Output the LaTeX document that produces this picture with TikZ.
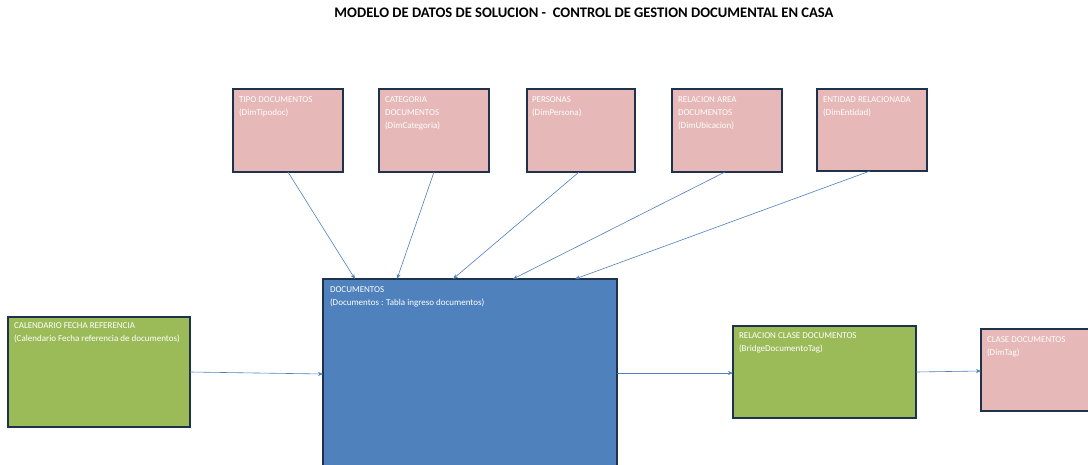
\documentclass[tikz,border=0pt]{standalone}
\usepackage{fontspec}
\setmainfont{Carlito}
\usetikzlibrary{arrows.meta}
\definecolor{pinkc}{RGB}{230,184,183}
\definecolor{greenc}{RGB}{155,187,89}
\definecolor{bluec}{RGB}{79,129,189}
\definecolor{borderc}{RGB}{30,50,75}
\definecolor{arrowc}{RGB}{79,129,189}
\tikzset{
  box/.style={draw=borderc, line width=1.4pt, rectangle, inner sep=0pt, outer sep=0pt},
  pinkbox/.style={box, fill=pinkc},
  greenbox/.style={box, fill=greenc},
  bluebox/.style={box, fill=bluec},
  boxtext/.style={anchor=north west, text=white, font=\fontsize{9}{12.7}\selectfont, align=left, inner sep=0pt},
  conn/.style={draw=arrowc, line width=0.6pt, -{Stealth[length=5pt,width=4pt]}},
}
\begin{document}
\begin{tikzpicture}[x=1pt,y=-1pt]
\clip (0,0) rectangle (1088,465);
\fill[white] (0,0) rectangle (1088,465);
\node[anchor=center, font=\fontsize{14.6}{16}\selectfont\bfseries] (title) at (584,13) {MODELO DE DATOS DE SOLUCION -\ \ CONTROL DE GESTION DOCUMENTAL EN CASA};

% top dimension boxes
\path[pinkbox] (233,89) rectangle (343,172) node[boxtext] (t1) at (239,97) {TIPO DOCUMENTOS\\(DimTipodoc)};
\coordinate (tipo) at (288,172);
\path[pinkbox] (379,89) rectangle (489,172) node[boxtext] (t2) at (385,97) {CATEGORIA\\DOCUMENTOS\\(DimCategoria)};
\coordinate (cat) at (434,172);
\path[pinkbox] (527,89) rectangle (635,172) node[boxtext] (t3) at (532,97) {PERSONAS\\(DimPersona)};
\coordinate (per) at (579,172);
\path[pinkbox] (672,89) rectangle (782,172) node[boxtext] (t4) at (678,97) {RELACION AREA\\DOCUMENTOS\\(DimUbicacion)};
\coordinate (rel) at (725,172);
\path[pinkbox] (817,89) rectangle (927,171) node[boxtext] (t5) at (823,97) {ENTIDAD RELACIONADA\\(DimEntidad)};
\coordinate (ent) at (870,171);

% documentos
\path[bluebox] (323,279) rectangle (617,480) node[boxtext] (t6) at (330,287) {DOCUMENTOS\\(Documentos : Tabla ingreso documentos)};
\coordinate (d1) at (355,279);
\coordinate (d2) at (397,279);
\coordinate (d3) at (453,279);
\coordinate (d4) at (513,279);
\coordinate (d5) at (575,279);
\coordinate (dl) at (323,374);
\coordinate (dr) at (617,373);

% calendario
\path[greenbox] (8,317) rectangle (190,427) node[boxtext] (t7) at (14,323) {CALENDARIO FECHA REFERENCIA\\(Calendario Fecha referencia de documentos)};
\coordinate (cal) at (190,372);

% relacion clase
\path[greenbox] (733,326) rectangle (916,418) node[boxtext] (t8) at (739,333) {RELACION CLASE DOCUMENTOS\\(BridgeDocumentoTag)};
\coordinate (rcl) at (733,373);
\coordinate (rcr) at (916,372);

% clase documentos
\path[pinkbox] (981,329) rectangle (1095,411) node[boxtext] (t9) at (987,337) {CLASE DOCUMENTOS\\(DimTag)};
\coordinate (cla) at (981,371);

\draw[conn] (tipo) -- (d1);
\draw[conn] (cat) -- (d2);
\draw[conn] (per) -- (d3);
\draw[conn] (rel) -- (d4);
\draw[conn] (ent) -- (d5);
\draw[conn] (cal) -- (dl);
\draw[conn] (dr) -- (rcl);
\draw[conn] (rcr) -- (cla);
\end{tikzpicture}
\end{document}
